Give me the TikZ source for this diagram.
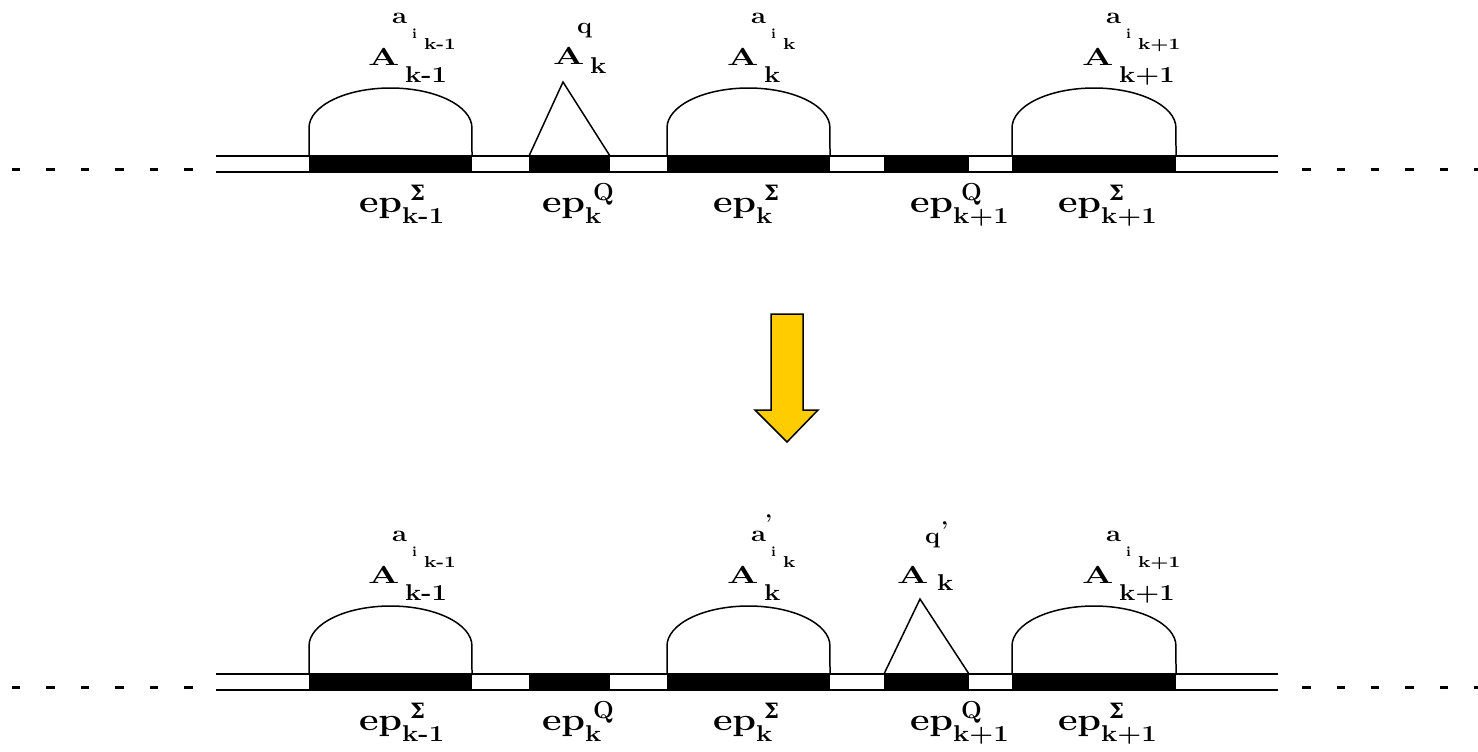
\documentclass[tikz,border=0pt]{standalone}
\usepackage{fontspec}
\usepackage{graphicx}
\newfontfamily\dvs{DejaVu Serif}
\definecolor{arrowY}{HTML}{FFCC00}
\newcommand\Wd[2]{\scalebox{#1}[1]{#2}}
\newcommand\Sig{{\dvs\bfseries\fontsize{12}{12}\selectfont Σ}}
\newcommand\Qq{{\bfseries\fontsize{14}{14}\selectfont Q}}
\tikzset{
 t/.style={inner sep=0pt, outer sep=0pt, anchor=base west},
 fA/.style={t, font=\fontsize{14}{14}\selectfont\bfseries},
 fsub/.style={t, font=\fontsize{13}{13}\selectfont\bfseries},
 fa/.style={t, font=\fontsize{13}{13}\selectfont\bfseries},
 fi/.style={t, font=\fontsize{8}{8}\selectfont\bfseries},
 fik/.style={t, font=\fontsize{9}{9}\selectfont\bfseries},
 fep/.style={t, font=\fontsize{18}{18}\selectfont\bfseries},
 fsup/.style={t},
 rail/.style={line width=0.04cm},
 dome/.style={line width=0.03cm},
 dots/.style={line width=0.06cm, dash pattern=on 0.17cm off 0.52cm},
}
% A-type label: name, x, baseline y, subscript, i-subscript
\newcommand\Alab[5]{%
 \node[fA] (#1) at (#2,#3) {\Wd{1.5}{A}};
 \node[fsub] (#1s) at ([shift={(37,17)}]#1.base west) {\Wd{1.2}{#4}};
 \node[fa] (#1a) at ([shift={(24,-42)}]#1.base west) {\Wd{1.2}{a}};
 \node[fi] (#1i) at ([shift={(44,-27)}]#1.base west) {i};
 \node[fik] (#1k) at ([shift={(56,-16)}]#1.base west) {\Wd{1.25}{#5}};
}
% ep label: name, x, baseline y, superscript, subscript
\newcommand\EPlab[5]{%
 \node[fep] (#1) at (#2,#3) {\Wd{1.2}{ep}};
 \node[fsub] (#1s) at ([shift={(0,11)}]#1.base east) {\Wd{1.2}{#5}};
 \node[fsup] (#1u) at ([shift={(8,-12)}]#1.base east) {#4};
}
% one strip: y offset
\newcommand\Strip[1]{%
 \draw[dots] (12,169+#1) -- (195,169+#1);
 \draw[dots] (1302,169+#1) -- (1478,169+#1);
 \draw[rail] (216,156+#1) -- (1278,156+#1);
 \draw[rail] (216,172+#1) -- (1278,172+#1);
 \fill (309,156+#1) rectangle (472,172+#1);
 \fill (529,156+#1) rectangle (610,172+#1);
 \fill (667,156+#1) rectangle (830,172+#1);
 \fill (884,156+#1) rectangle (969,172+#1);
 \fill (1012,156+#1) rectangle (1176,172+#1);
 \draw[dome] (309,156+#1) -- (309,128+#1) arc[start angle=180, end angle=0, x radius=1.63cm, y radius=0.8cm] -- (472,156+#1);
 \draw[dome] (667,156+#1) -- (667,128+#1) arc[start angle=180, end angle=0, x radius=1.63cm, y radius=0.8cm] -- (830,156+#1);
 \draw[dome] (1012,156+#1) -- (1012,128+#1) arc[start angle=180, end angle=0, x radius=1.64cm, y radius=0.8cm] -- (1176,156+#1);
}
\begin{document}
\begin{tikzpicture}[x=0.02cm, y=-0.02cm]
\useasboundingbox (0,0) rectangle (1478,751);
% ---------- top ----------
\Strip{0}
\draw[dome] (529,156) -- (563,82) -- (610,156);
\Alab{t1}{368}{65}{k-1}{k-1}
\node[fA] (tq) at (553,64) {\Wd{1.5}{A}};
\node[fa] (tqq) at (577,33) {\Wd{1.1}{q}};
\node[fsub] (tqk) at (590,73) {\Wd{1.2}{k}};
\Alab{t3}{727}{65}{k}{k}
\Alab{t4}{1082}{65}{k+1}{k+1}
\EPlab{e1}{359}{212}{\Sig}{k-1}
\EPlab{e2}{542}{212}{\Qq}{k}
\EPlab{e3}{713}{212}{\Sig}{k}
\EPlab{e4}{910}{212}{\Qq}{k+1}
\EPlab{e5}{1058}{212}{\Sig}{k+1}
% ---------- arrow ----------
\draw[fill=arrowY, line width=0.03cm] (771,314) -- (803,314) -- (803,410) -- (818,410) -- (787,442) -- (755,410) -- (771,410) -- cycle;
% ---------- bottom ----------
\Strip{518}
\draw[dome] (884,674) -- (920,599) -- (969,674);
\Alab{b1}{368}{583}{k-1}{k-1}
\Alab{b3}{727}{583}{k}{k}
\node[fa] (b3p) at (765,530) {'};
\node[fA] (bq) at (897,583) {\Wd{1.5}{A}};
\node[fa] (bqq) at (925,543) {\Wd{1.1}{q}};
\node[fa] (bqp) at (941,537) {'};
\node[fsub] (bqk) at (937,590) {\Wd{1.2}{k}};
\Alab{b4}{1082}{583}{k+1}{k+1}
\EPlab{f1}{359}{730}{\Sig}{k-1}
\EPlab{f2}{542}{730}{\Qq}{k}
\EPlab{f3}{713}{730}{\Sig}{k}
\EPlab{f4}{910}{730}{\Qq}{k+1}
\EPlab{f5}{1058}{730}{\Sig}{k+1}
\end{tikzpicture}
\end{document}
